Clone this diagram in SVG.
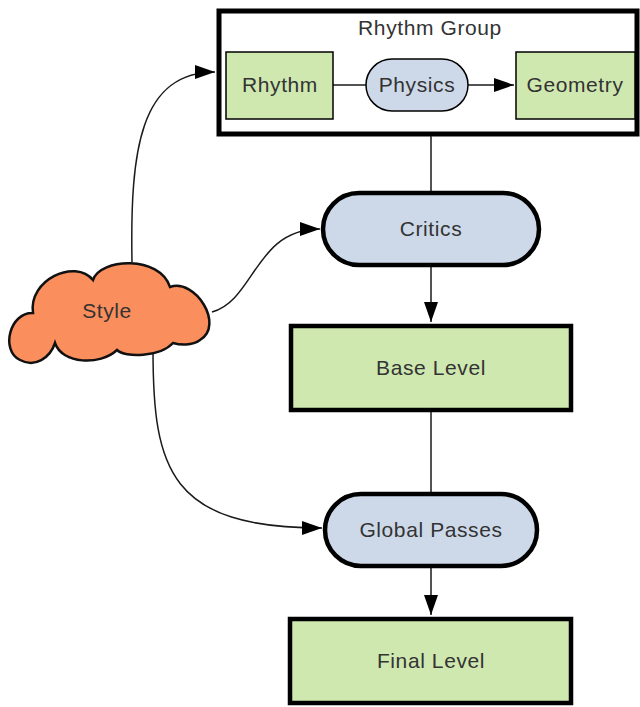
<svg xmlns="http://www.w3.org/2000/svg" width="640" height="707" viewBox="0 0 640 707">
<defs>
<style>
.t{font-family:"Liberation Sans",Arial,sans-serif;font-size:21px;letter-spacing:0.6px;fill:#333;text-anchor:middle}
.green{fill:#cfe8b0;stroke:#000}
.blue{fill:#cdd9e8;stroke:#000}
.thick{stroke-width:4.5}
.thin{stroke-width:1.5}
.c{fill:none;stroke:#1a1a1a;stroke-width:1.5}
</style>
<marker id="ah" markerUnits="userSpaceOnUse" markerWidth="22" markerHeight="16" refX="20" refY="7" orient="auto">
<path d="M0,0 L20,7 L0,14 Z" fill="#000"/>
</marker>
</defs>
<rect width="640" height="707" fill="#fff"/>
<g id="rhythm-group">
<rect x="219" y="11" width="418" height="123" fill="#fff" stroke="#000" stroke-width="5"/>
<text class="t" x="430" y="35">Rhythm Group</text>
</g>
<g id="connectors">
<path class="c" d="M431,136 L431,192"/>
<path class="c" d="M431,266 L431,322" marker-end="url(#ah)"/>
<path class="c" d="M431,412 L431,493"/>
<path class="c" d="M431,568 L431,615" marker-end="url(#ah)"/>
<path class="c" d="M333,85 L366,85"/>
<path class="c" d="M468,85 L514,85" marker-end="url(#ah)"/>
<path class="c" d="M132,262 C130,150 140,72 215,72" marker-end="url(#ah)"/>
<path class="c" d="M212,312 C255,300 255,229 320,229" marker-end="url(#ah)"/>
<path class="c" d="M153,350 C153,470 170,528 322,528" marker-end="url(#ah)"/>
</g>
<g id="rhythm">
<rect class="green thin" x="226" y="52" width="107" height="67"/>
<text class="t" x="280" y="92">Rhythm</text>
</g>
<g id="physics">
<rect class="blue thin" x="366" y="59" width="102" height="52" rx="26" ry="26"/>
<text class="t" x="417" y="92">Physics</text>
</g>
<g id="geometry">
<rect class="green thin" x="516" y="52" width="119" height="67"/>
<text class="t" x="575" y="92">Geometry</text>
</g>
<g id="critics">
<rect class="blue thick" x="323" y="193" width="216" height="72" rx="36" ry="36"/>
<text class="t" x="431" y="236">Critics</text>
</g>
<g id="base-level">
<rect class="green thick" x="291" y="326" width="280" height="84"/>
<text class="t" x="431" y="375">Base Level</text>
</g>
<g id="global-passes">
<rect class="blue thick" x="325" y="494" width="212" height="72" rx="36" ry="36"/>
<text class="t" x="431" y="537">Global Passes</text>
</g>
<g id="final-level">
<rect class="green thick" x="290" y="619" width="281" height="84"/>
<text class="t" x="431" y="668">Final Level</text>
</g>
<g id="style">
<path d="M33,313 C28,280 75,258 93,280 C100,258 160,255 170,287 C195,278 225,325 200,340 C192,346 180,345 173,343 C160,357 125,358 117,350 C100,366 62,364 55,343 C50,358 35,368 20,360 C0,350 10,312 33,313 Z" fill="#fa8e5c" stroke="#111" stroke-width="2.5"/>
<text class="t" x="107" y="318">Style</text>
</g>
</svg>
